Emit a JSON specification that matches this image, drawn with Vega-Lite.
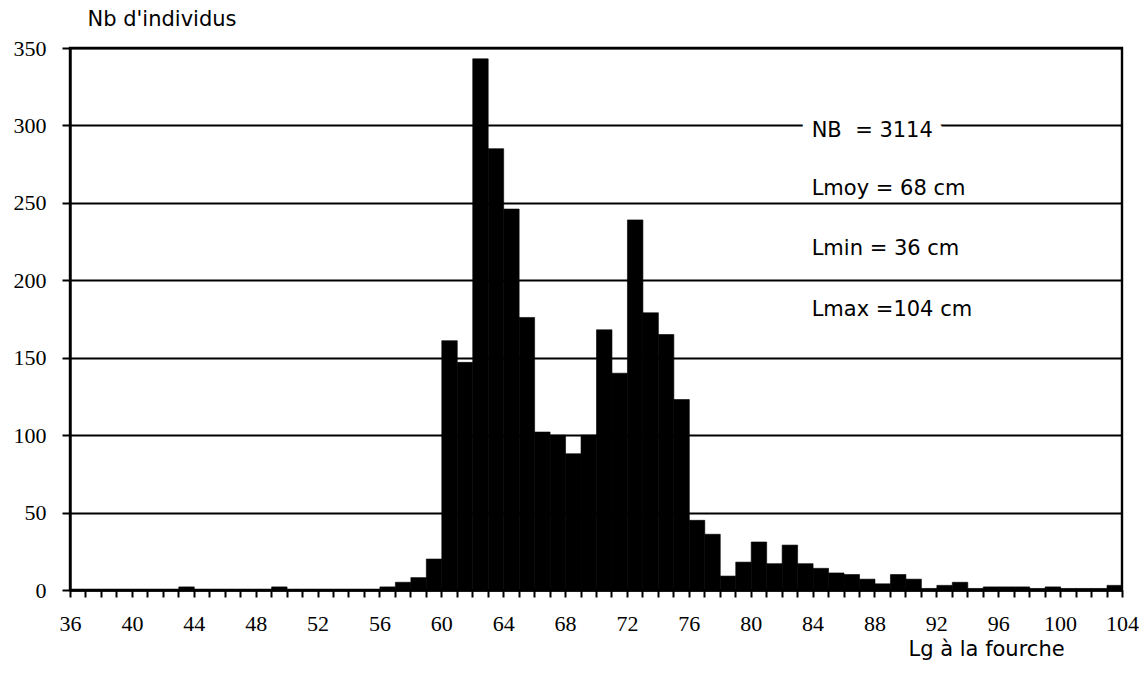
{
  "$schema": "https://vega.github.io/schema/vega-lite/v6.json",
  "width": 1052,
  "height": 542,
  "autosize": {"type": "none"},
  "padding": {"left": 70, "top": 48, "right": 22, "bottom": 85},
  "background": "white",
  "config": {
    "view": {"stroke": "black", "strokeWidth": 2.4},
    "axis": {"domainColor": "black", "tickColor": "black", "labelColor": "black", "titleColor": "black"}
  },
  "datasets": {
    "hist": [
      {"L": 43, "n": 2}, {"L": 49, "n": 2}, {"L": 56, "n": 2},
      {"L": 57, "n": 5}, {"L": 58, "n": 8}, {"L": 59, "n": 20},
      {"L": 60, "n": 161}, {"L": 61, "n": 147}, {"L": 62, "n": 343},
      {"L": 63, "n": 285}, {"L": 64, "n": 246}, {"L": 65, "n": 176},
      {"L": 66, "n": 102}, {"L": 67, "n": 100}, {"L": 68, "n": 88},
      {"L": 69, "n": 100}, {"L": 70, "n": 168}, {"L": 71, "n": 140},
      {"L": 72, "n": 239}, {"L": 73, "n": 179}, {"L": 74, "n": 165},
      {"L": 75, "n": 123}, {"L": 76, "n": 45}, {"L": 77, "n": 36},
      {"L": 78, "n": 9}, {"L": 79, "n": 18}, {"L": 80, "n": 31},
      {"L": 81, "n": 17}, {"L": 82, "n": 29}, {"L": 83, "n": 17},
      {"L": 84, "n": 14}, {"L": 85, "n": 11}, {"L": 86, "n": 10},
      {"L": 87, "n": 7}, {"L": 88, "n": 4}, {"L": 89, "n": 10},
      {"L": 90, "n": 7}, {"L": 91, "n": 1}, {"L": 92, "n": 3},
      {"L": 93, "n": 5}, {"L": 94, "n": 1}, {"L": 95, "n": 2},
      {"L": 96, "n": 2}, {"L": 97, "n": 2}, {"L": 98, "n": 1},
      {"L": 99, "n": 2}, {"L": 100, "n": 1}, {"L": 101, "n": 1},
      {"L": 102, "n": 1}, {"L": 103, "n": 3}
    ],
    "stats": [
      {"label": "NB\u00a0 = 3114", "L": 83.94, "n": 292.5},
      {"label": "Lmoy = 68 cm", "L": 83.94, "n": 255},
      {"label": "Lmin = 36 cm", "L": 83.94, "n": 216.3},
      {"label": "Lmax =104 cm", "L": 83.94, "n": 177}
    ]
  },
  "layer": [
    {
      "data": {"name": "hist"},
      "mark": {"type": "bar", "color": "black", "stroke": "black", "strokeWidth": 0.6, "binSpacing": 0},
      "encoding": {
        "x": {
          "field": "L",
          "type": "quantitative",
          "bin": {"step": 1, "extent": [36, 104]},
          "scale": {"domain": [36, 104], "nice": false, "zero": false},
          "axis": {
            "values": [36,37,38,39,40,41,42,43,44,45,46,47,48,49,50,51,52,53,54,55,56,57,58,59,60,61,62,63,64,65,66,67,68,69,70,71,72,73,74,75,76,77,78,79,80,81,82,83,84,85,86,87,88,89,90,91,92,93,94,95,96,97,98,99,100,101,102,103,104],
            "labelExpr": "datum.value % 4 === 0 ? format(datum.value, 'd') : ''",
            "labelOverlap": false,
            "labelFlush": false,
            "labelFont": "Liberation Serif",
            "labelFontSize": 22,
            "labelPadding": 16,
            "tickSize": 7,
            "tickWidth": 2,
            "domainWidth": 2.4,
            "grid": false,
            "title": "Lg à la fourche",
            "titleFont": "DejaVu Sans",
            "titleFontSize": 21,
            "titleFontWeight": "normal",
            "titleAlign": "left",
            "titleBaseline": "alphabetic",
            "titleAnchor": null,
            "titleX": 838,
            "titleY": 65
          }
        },
        "y": {
          "field": "n",
          "type": "quantitative",
          "aggregate": "sum",
          "scale": {"domain": [0, 350], "nice": false},
          "axis": {
            "values": [0, 50, 100, 150, 200, 250, 300, 350],
            "labelFont": "Liberation Serif",
            "labelFontSize": 22,
            "labelPadding": 16,
            "tickSize": 8,
            "tickWidth": 2,
            "domainWidth": 2.4,
            "grid": true,
            "gridColor": "black",
            "gridWidth": 2,
            "gridOpacity": 1,
            "title": "Nb d'individus",
            "titleFont": "DejaVu Sans",
            "titleFontSize": 21,
            "titleFontWeight": "normal",
            "titleAngle": 0,
            "titleAlign": "left",
            "titleBaseline": "alphabetic",
            "titleAnchor": null,
            "titleX": 17,
            "titleY": -23
          }
        }
      }
    },
    {
      "data": {"name": "stats"},
      "transform": [{"filter": "indexof(datum.label, 'NB') === 0"}],
      "mark": {"type": "text", "align": "left", "baseline": "alphabetic", "font": "DejaVu Sans", "fontSize": 21, "stroke": "white", "strokeWidth": 22, "strokeJoin": "round", "fill": "white"},
      "encoding": {
        "x": {"field": "L", "type": "quantitative"},
        "y": {"field": "n", "type": "quantitative"},
        "text": {"field": "label"}
      }
    },
    {
      "data": {"name": "stats"},
      "mark": {"type": "text", "align": "left", "baseline": "alphabetic", "font": "DejaVu Sans", "fontSize": 21, "color": "black"},
      "encoding": {
        "x": {"field": "L", "type": "quantitative"},
        "y": {"field": "n", "type": "quantitative"},
        "text": {"field": "label"}
      }
    }
  ]
}
